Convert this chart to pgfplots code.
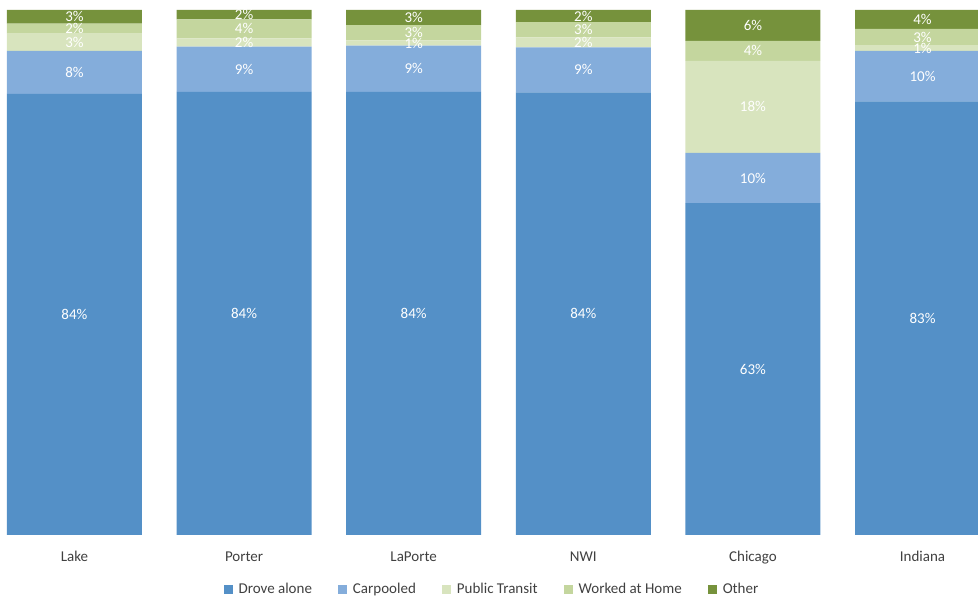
\documentclass[border=0pt]{standalone}
\usepackage{fontspec}
\setmainfont{Carlito}
\usepackage{pgfplots}
\usepackage{pgfplotstable}
\pgfplotsset{compat=1.18}
\definecolor{cDrove}{RGB}{84,144,199}
\definecolor{cCar}{RGB}{132,173,219}
\definecolor{cTransit}{RGB}{216,228,190}
\definecolor{cHome}{RGB}{196,214,158}
\definecolor{cOther}{RGB}{118,146,60}
\definecolor{txt}{RGB}{64,64,64}
\pgfplotstableread{
x drove carpool transit home other
0 84.0 8.2 3.3 1.9 2.6
1 84.4 8.6 1.6 3.6 1.8
2 84.4 8.8 1.0 2.9 2.9
3 84.3 8.6 1.9 2.9 2.3
4 63.2 9.6 17.5 3.8 5.9
5 82.6 9.6 1.1 3.1 3.6
}\datatable
\begin{document}
\begin{tikzpicture}
\begin{axis}[
  at={(0,63bp)}, anchor=south west,
  scale only axis,
  width=978bp, height=525bp,
  ybar stacked,
  bar width=0.796,
  xmin=-0.439, xmax=5.327,
  ymin=0, ymax=100,
  axis line style={draw=none},
  xtick={0,1,2,3,4,5},
  xticklabels={Lake,Porter,LaPorte,NWI,Chicago,Indiana},
  ytick=\empty,
  major tick length=0pt,
  xticklabel style={font=\fontsize{15bp}{18bp}\selectfont, text=txt, yshift=-13bp},
  point meta=explicit symbolic,
  nodes near coords={\pgfmathprintnumber[fixed,precision=0,assume math mode=true]{\pgfplotspointmeta}\%},
  every node near coord/.append style={anchor=center, text=white,
     font=\fontsize{15bp}{18bp}\selectfont},
  legend image code/.code={\fill[#1] (0bp,-4.5bp) rectangle (9bp,4.5bp); \path (13bp,0);},
  legend style={at={(0.503,-0.103)}, anchor=center, draw=none, fill=none,
     legend columns=-1, font=\fontsize{15bp}{18bp}\selectfont, text=txt,
     /tikz/every even column/.append style={column sep=24bp}},
]
\addplot[fill=cDrove, draw=none] table[x=x, y=drove, meta=drove] {\datatable};
\addplot[fill=cCar, draw=none] table[x=x, y=carpool, meta=carpool] {\datatable};
\addplot[fill=cTransit, draw=none] table[x=x, y=transit, meta=transit] {\datatable};
\addplot[fill=cHome, draw=none] table[x=x, y=home, meta=home] {\datatable};
\addplot[fill=cOther, draw=none] table[x=x, y=other, meta=other] {\datatable};
\legend{Drove alone, Carpooled, Public Transit, Worked at Home, Other}
\end{axis}
\pgfresetboundingbox
\useasboundingbox (0,0) rectangle (978bp,598bp);
\end{tikzpicture}
\end{document}
